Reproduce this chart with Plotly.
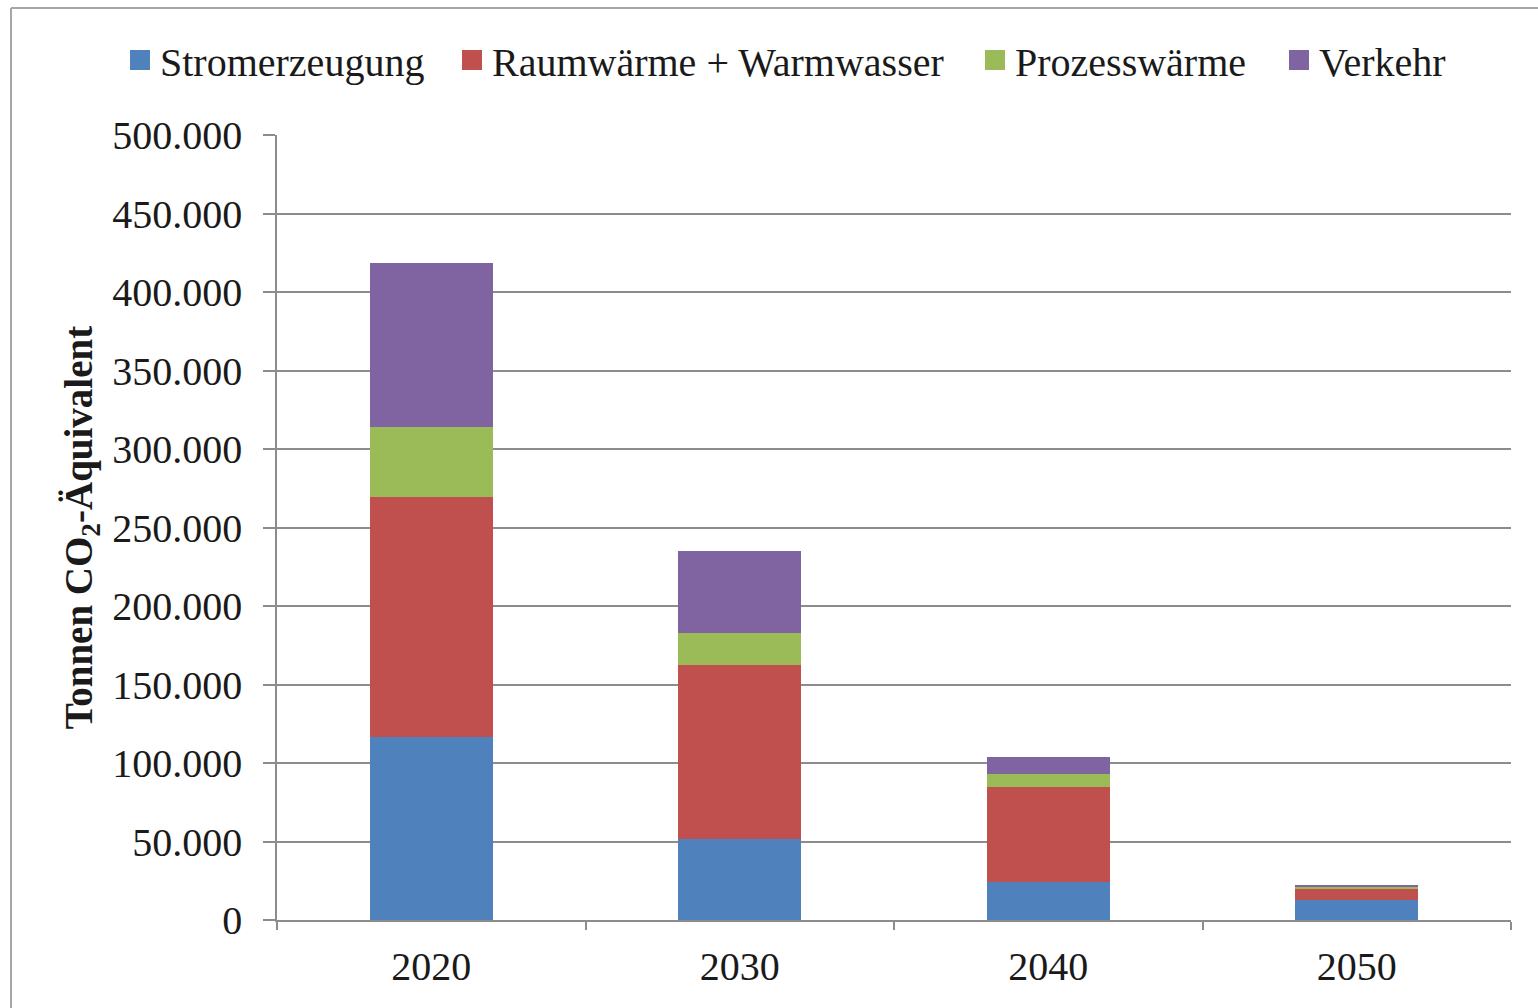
import plotly.graph_objects as go

years = ["2020", "2030", "2040", "2050"]
stromerzeugung = [116600, 51600, 24400, 13000]
raumwaerme = [152800, 110800, 60000, 6800]
prozesswaerme = [44600, 20400, 8900, 1500]
verkehr = [104500, 52200, 10600, 400]

series = [
    ("Stromerzeugung", stromerzeugung, "#4F81BD"),
    ("Raumwärme + Warmwasser", raumwaerme, "#C0504D"),
    ("Prozesswärme", prozesswaerme, "#9BBB59"),
    ("Verkehr", verkehr, "#8064A2"),
]
legend_left_px = [120, 452, 975, 1279]

FONT = "Liberation Serif"
FS = 40
W, H = 1538, 1008
L, R, T, B = 277, 27, 135, 88
pw, ph = W - L - R, H - T - B

fig = go.Figure()
for name, vals, col in series:
    fig.add_trace(go.Bar(x=years, y=vals, name=name, showlegend=False,
                         marker=dict(color=col, line=dict(width=0))))
legend_layout = {}
for i, (name, vals, col) in enumerate(series):
    lname = "legend" if i == 0 else f"legend{i + 1}"
    fig.add_trace(go.Scatter(x=[None], y=[None], name=name, mode="markers", legend=lname,
                             marker=dict(symbol="square", size=16, color=col,
                                         line=dict(color=col, width=4))))
    legend_layout[lname] = dict(orientation="h", xref="container", yref="container",
                                x=legend_left_px[i] / W, xanchor="left",
                                y=1 - 60 / H, yanchor="middle", font=dict(size=FS),
                                itemsizing="trace", itemwidth=30, bgcolor="rgba(0,0,0,0)")

def px(x):
    return (x - L) / pw

def py(y):
    return (H - B - y) / ph

fig.update_layout(
    width=W, height=H,
    barmode="stack", bargap=0.6,
    separators=",.",
    plot_bgcolor="white", paper_bgcolor="white",
    margin=dict(l=L, r=R, t=T, b=B),
    font=dict(family=FONT, size=FS, color="#1a1a1a"),
    yaxis=dict(range=[0, 500000], dtick=50000, tickformat=",.0f", showgrid=True,
               gridcolor="#8c8c8c", gridwidth=1.5, showline=True, linecolor="#8c8c8c", linewidth=1.5,
               ticks="outside", ticklen=12, tickcolor="#8c8c8c", tickwidth=1.5,
               ticklabelstandoff=13,
               title=dict(text="<b>Tonnen CO<sub>2</sub>-Äquivalent</b>", font=dict(size=39), standoff=8),
               zeroline=False),
    xaxis=dict(showline=True, linecolor="#8c8c8c", linewidth=1.5, ticks="outside", ticklen=8,
               tickcolor="#8c8c8c", tickwidth=1.5, tickson="boundaries", showgrid=False,
               ticklabelstandoff=10),
    showlegend=True,
    **legend_layout,
)
fig.add_shape(type="line", xref="paper", yref="paper", x0=px(11), x1=px(11), y0=py(8), y1=py(1010),
              line=dict(color="#a6a6a6", width=2))
fig.add_shape(type="line", xref="paper", yref="paper", x0=px(11), x1=px(1540), y0=py(8), y1=py(8),
              line=dict(color="#a6a6a6", width=2))
fig.write_html("out.html")
